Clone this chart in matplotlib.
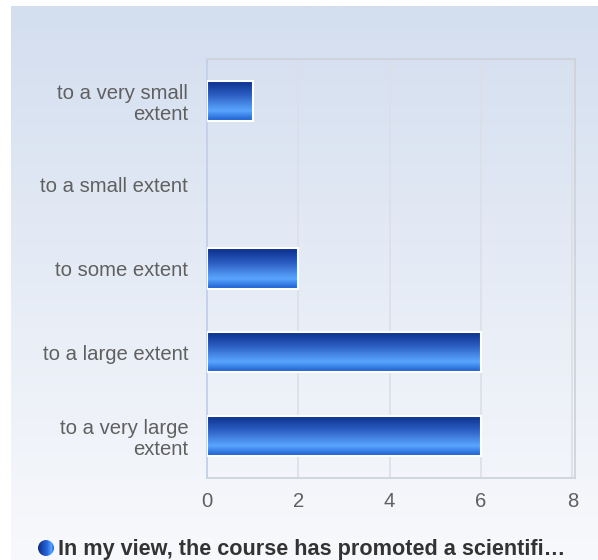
import matplotlib.pyplot as plt
import numpy as np
from matplotlib.colors import LinearSegmentedColormap

categories = ['to a very small\nextent', 'to a small extent', 'to some extent',
              'to a large extent', 'to a very large\nextent']
values = [1, 0, 2, 6, 6]
xticks = [0, 2, 4, 6, 8]
legend_text = 'In my view, the course has promoted a scientifi\u2026'

plt.rcParams['font.family'] = ['Liberation Sans', 'DejaVu Sans']

fig = plt.figure(figsize=(5.98, 5.6), dpi=100)
fig.patch.set_facecolor('white')

# panel background gradient
bg = fig.add_axes([11 / 598, 0, 1 - 11 / 598, 1 - 6 / 560], zorder=0)
bg_cmap = LinearSegmentedColormap.from_list('bg', ['#d3deef', '#e6ecf6', '#f8f9fc'])
bg.imshow(np.linspace(0, 1, 256).reshape(-1, 1), cmap=bg_cmap, aspect='auto',
          extent=[0, 1, 0, 1], origin='upper')
bg.set_axis_off()

ax = fig.add_axes([207 / 598, 1 - 478 / 560, 368 / 598, 419 / 560], zorder=1)
ax.patch.set_alpha(0)

bar_cmap = LinearSegmentedColormap.from_list(
    'bar', [(0, '#0a2d8a'), (0.35, '#2a5cc0'), (0.75, '#5aa6ff'), (1, '#1a5ccc')])
grad = np.linspace(0, 1, 128).reshape(-1, 1)

y = np.arange(len(categories))
h = 0.48
for yi, v in zip(y, values):
    if v <= 0:
        continue
    ax.imshow(grad, cmap=bar_cmap, aspect='auto', origin='upper',
              extent=[0, v, yi + h / 2, yi - h / 2], zorder=3)
    ax.add_patch(plt.Rectangle((0, yi - h / 2), v, h, fill=False,
                               edgecolor='white', lw=1.5, zorder=4))

ax.set_xlim(0, 8.06)
ax.set_ylim(len(categories) - 0.5, -0.5)
ax.set_yticks(y)
ax.set_yticklabels(categories, ha='right', multialignment='right', linespacing=1.15)
ax.set_xticks(xticks)
ax.set_xticklabels([str(t) for t in xticks])
ax.tick_params(axis='both', length=0, colors='#606060', labelsize=14.6)
ax.tick_params(axis='y', pad=13.5)
ax.tick_params(axis='x', pad=10)
ax.grid(axis='x', color='#dcdfe6', lw=1.2, zorder=1)
ax.set_axisbelow(True)
for s in ['top', 'right', 'bottom']:
    ax.spines[s].set_color('#cfd3da')
    ax.spines[s].set_linewidth(1.3)
ax.spines['left'].set_color('#c3d0ea')
ax.spines['left'].set_linewidth(1.3)

# legend marker: small gradient disc
cx, cy, r = 46, 548, 8
lax = fig.add_axes([(cx - r) / 598, 1 - (cy + r) / 560, 2 * r / 598, 2 * r / 560], zorder=2)
lax.set_axis_off()
disc_cmap = LinearSegmentedColormap.from_list(
    'disc', [(0, '#0a2d8a'), (0.6, '#2a6ae0'), (0.85, '#5aa6ff'), (1, '#1a5ccc')])
im = lax.imshow(np.linspace(0, 1, 64).reshape(1, -1), cmap=disc_cmap, aspect='auto',
                extent=[-1, 1, -1, 1])
circ = plt.Circle((0, 0), 1, transform=lax.transData)
im.set_clip_path(circ)
lax.set_xlim(-1, 1)
lax.set_ylim(-1, 1)

fig.text(58 / 598, 1 - 549 / 560, legend_text, color='#333333', fontsize=15.6,
         fontweight='bold', ha='left', va='center')

fig.savefig('out.png', dpi=100)
